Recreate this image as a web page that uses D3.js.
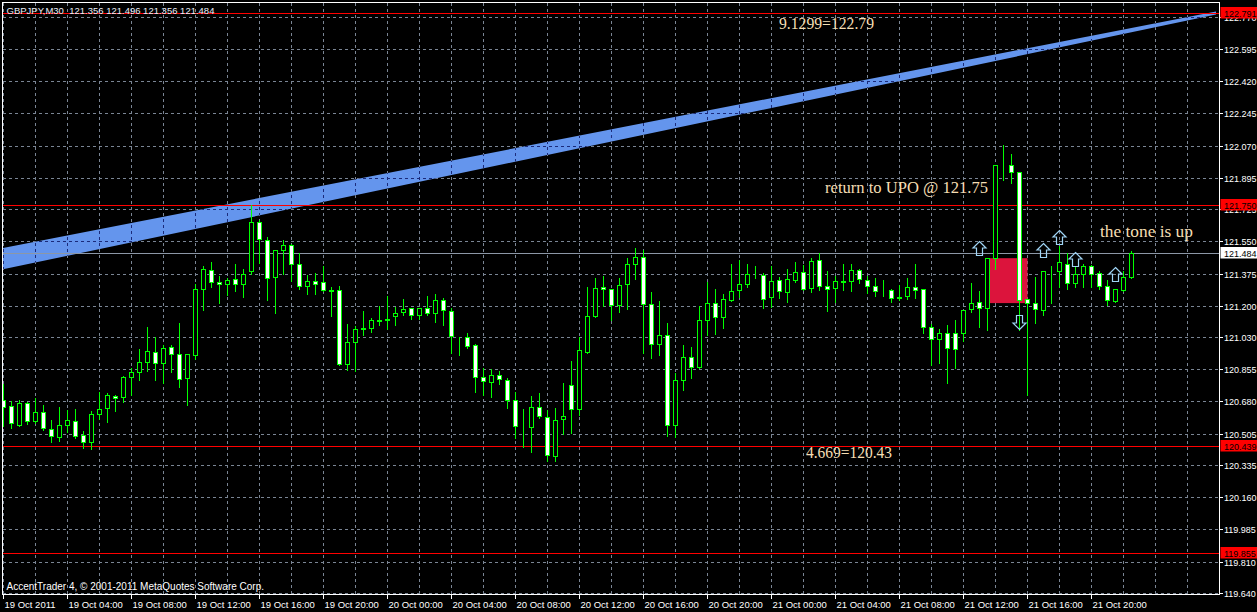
<!DOCTYPE html>
<html>
<head>
<meta charset="utf-8">
<script src="https://cdn.jsdelivr.net/npm/d3@7"></script>
<style>
  html, body { margin: 0; padding: 0; background: #000; }
  svg { display: block; }
</style>
</head>
<body>
<svg id="chart" width="1257" height="612"></svg>
<script>
// GBPJPY M30, one bar per 30 minutes starting 19 Oct 2011 00:00
const opens = [
  120.690,120.656,120.552,120.672,120.572,120.623,120.531,120.485,120.550,120.574,
  120.498,120.458,120.613,120.643,120.710,120.704,120.814,120.841,120.894,120.949,
  120.889,120.978,120.940,120.808,120.933,121.292,121.395,121.330,121.319,121.346,
  121.319,121.388,121.656,121.558,121.355,121.501,121.531,121.424,121.306,121.336,
  121.330,121.281,121.286,120.886,121.002,121.075,121.078,121.115,121.123,121.143,
  121.164,121.185,121.148,121.189,121.159,121.232,121.172,121.032,121.031,120.987,
  120.814,120.784,120.823,120.797,120.688,120.546,120.543,120.651,120.596,120.382,
  120.585,120.770,120.637,120.951,121.143,121.303,121.292,121.205,121.317,121.428,
  121.466,121.210,120.991,121.042,120.552,120.795,120.922,120.868,121.123,121.214,
  121.138,121.232,121.284,121.317,121.388,121.368,121.248,121.342,121.275,121.338,
  121.384,121.295,121.449,121.306,121.295,121.333,121.333,121.395,121.342,121.308,
  121.286,121.288,121.246,121.252,121.303,121.292,121.082,121.020,121.053,121.053,
  121.053,121.183,121.221,121.189,121.461,121.967,121.963,121.927,121.235,121.216,
  121.175,121.388,121.390,121.428,121.325,121.374,121.418,121.379,121.309,121.227,
  121.288,121.356
];
const highs = [
  120.777,120.681,120.688,120.679,120.697,120.661,120.581,120.651,120.636,120.640,
  120.520,120.629,120.732,120.726,120.715,120.817,120.860,120.966,121.087,121.031,
  120.989,120.989,121.107,120.940,121.319,121.417,121.440,121.363,121.351,121.428,
  121.401,121.745,121.668,121.574,121.503,121.558,121.535,121.487,121.368,121.379,
  121.418,121.302,121.306,121.102,121.089,121.174,121.134,121.196,121.252,121.192,
  121.239,121.189,121.189,121.255,121.261,121.243,121.189,121.032,121.052,120.990,
  120.863,120.857,120.846,120.808,120.733,120.641,120.712,120.728,120.636,120.645,
  120.782,120.897,121.028,121.304,121.353,121.364,121.292,121.348,121.462,121.516,
  121.505,121.277,121.223,121.107,120.837,120.989,120.976,121.196,121.331,121.293,
  121.265,121.424,121.451,121.429,121.418,121.379,121.417,121.357,121.397,121.435,
  121.422,121.462,121.485,121.386,121.360,121.429,121.424,121.397,121.360,121.351,
  121.342,121.289,121.315,121.353,121.424,121.292,121.100,121.071,121.093,121.120,
  121.175,121.324,121.282,121.461,121.963,122.072,122.027,121.929,121.236,121.355,
  121.390,121.418,121.527,121.485,121.415,121.426,121.419,121.391,121.342,121.292,
  121.388,121.496
];
const lows = [
  120.554,120.539,120.550,120.563,120.570,120.528,120.464,120.473,120.518,120.485,
  120.433,120.425,120.588,120.572,120.632,120.681,120.718,120.804,120.849,120.801,
  120.784,120.844,120.762,120.665,120.916,121.181,121.309,121.219,121.261,121.284,
  121.252,121.379,121.436,121.236,121.164,121.379,121.338,121.295,121.270,121.268,
  121.284,121.152,120.881,120.855,120.853,121.049,121.062,121.103,121.080,121.098,
  121.156,121.132,121.135,121.154,121.115,121.098,120.947,120.935,120.976,120.739,
  120.718,120.712,120.782,120.648,120.485,120.440,120.409,120.594,120.360,120.360,
  120.507,120.512,120.610,120.946,121.143,121.203,121.130,121.170,121.190,121.349,
  120.947,120.920,120.936,120.496,120.491,120.750,120.811,120.868,121.047,121.050,
  121.083,121.232,121.252,121.309,121.357,121.192,121.197,121.246,121.224,121.333,
  121.292,121.279,121.292,121.175,121.228,121.292,121.288,121.327,121.275,121.256,
  121.256,121.228,121.234,121.241,121.246,121.056,120.884,120.895,120.784,120.869,
  121.016,121.170,121.089,121.075,121.404,121.890,121.871,121.075,120.721,121.110,
  121.156,121.219,121.306,121.295,121.309,121.309,121.306,121.295,121.207,121.227,
  121.288,121.356
];
const closes = [
  120.650,120.563,120.672,120.572,120.623,120.534,120.491,120.552,120.579,120.491,
  120.458,120.613,120.640,120.715,120.697,120.814,120.841,120.894,120.955,120.889,
  120.971,120.939,120.803,120.935,121.292,121.401,121.331,121.319,121.340,121.319,
  121.374,121.656,121.564,121.351,121.503,121.531,121.424,121.308,121.336,121.319,
  121.284,121.284,120.886,121.004,121.075,121.080,121.123,121.123,121.130,121.161,
  121.183,121.148,121.189,121.159,121.232,121.175,121.034,121.030,120.980,120.811,
  120.790,120.825,120.801,120.685,120.546,120.544,120.651,120.601,120.390,120.581,
  120.601,120.640,120.960,121.145,121.297,121.292,121.205,121.313,121.424,121.467,
  121.210,120.993,121.042,120.552,120.797,120.922,120.866,121.123,121.216,121.140,
  121.237,121.281,121.319,121.375,121.386,121.237,121.337,121.281,121.346,121.384,
  121.292,121.442,121.308,121.292,121.336,121.331,121.395,121.346,121.308,121.281,
  121.284,121.243,121.244,121.303,121.286,121.082,121.020,121.053,120.971,120.966,
  121.175,121.216,121.189,121.461,121.963,121.965,121.927,121.230,121.216,121.183,
  121.390,121.386,121.435,121.325,121.375,121.418,121.375,121.309,121.230,121.292,
  121.357,121.484
];

// price axis labels (right) and time labels (bottom, one every 8 bars)
const priceTicks = ["122.770","122.595","122.420","122.245","122.070","121.895","121.725",
  "121.550","121.375","121.200","121.030","120.855","120.680","120.505","120.335",
  "120.160","119.985","119.810","119.640"];
const timeLabels = ["19 Oct 2011","19 Oct 04:00","19 Oct 08:00","19 Oct 12:00","19 Oct 16:00",
  "19 Oct 20:00","20 Oct 00:00","20 Oct 04:00","20 Oct 08:00","20 Oct 12:00","20 Oct 16:00",
  "20 Oct 20:00","21 Oct 00:00","21 Oct 04:00","21 Oct 08:00","21 Oct 12:00","21 Oct 16:00",
  "21 Oct 20:00"];

// horizontal levels
const redLevels = [122.791, 121.750, 120.439, 119.855];
const bidPrice = 121.484;

// drawn objects
const bandBars = [-0.44, 151.56];
const bandTop = [121.513, 122.802];
const bandBottom = [121.397, 122.785];
const boxBars = [123.2, 128.0];
const boxPrices = [121.461, 121.217];
const upArrowBars = [122, 130, 132, 134, 139];
const upArrowPrices = [121.550, 121.543, 121.610, 121.491, 121.413];
const downArrowBars = [127];
const downArrowPrices = [121.076];
const noteTexts = ["9.1299=122.79", "return to UPO @ 121.75", "the tone is up", "4.669=120.43"];
const noteBars = [96.94, 102.69, 137.06, 100.31];
const notePrices = [122.706, 121.815, 121.576, 120.375];

const header = "GBPJPY,M30  121.356 121.496 121.356 121.484";
const footer = "AccentTrader 4, \u00a9 2001-2011 MetaQuotes Software Corp.";

// ---- drawing ----
const W = 1257, H = 612;
const pLeft = 3, pTop = 3, pRight = 1219, pBottom = 594;
const svg = d3.select("#chart");
svg.append("rect").attr("width", W).attr("height", H).attr("fill", "#000");

const x = d3.scaleLinear().domain([0, 141]).range([3.5, 1131.5]);
const y = d3.scaleLinear().domain([119.640, 122.770]).range([593.3, 17.3]);
const snap = v => Math.floor(v) + 0.5;

const candles = opens.map((o, i) => ({ i, o, h: highs[i], l: lows[i], c: closes[i] }));
const tickValues = priceTicks.map(Number);
const gridBars = d3.range(0, 152, 4);

const defs = svg.append("defs");
defs.append("clipPath").attr("id", "plot").append("rect")
  .attr("x", pLeft).attr("y", pTop).attr("width", pRight - pLeft).attr("height", pBottom - pTop);

const bandPts = [
  [x(bandBars[0]), y(bandTop[0])], [x(bandBars[1]), y(bandTop[1])],
  [x(bandBars[1]), y(bandBottom[1])], [x(bandBars[0]), y(bandBottom[0])]
];
defs.append("clipPath").attr("id", "band").append("polygon")
  .attr("points", bandPts.map(p => p.join(",")).join(" "));

const plot = svg.append("g").attr("clip-path", "url(#plot)");

// blue channel
plot.append("polygon")
  .attr("points", bandPts.map(p => p.join(",")).join(" "))
  .attr("fill", "#6495ed");

function drawGrid(g, color) {
  g.selectAll("line.gh").data(tickValues).join("line").attr("class", "gh")
    .attr("x1", pLeft).attr("x2", pRight)
    .attr("y1", d => snap(y(d))).attr("y2", d => snap(y(d)))
    .attr("stroke", color).attr("stroke-dasharray", "3,3");
  g.selectAll("line.gv").data(gridBars).join("line").attr("class", "gv")
    .attr("x1", d => x(d)).attr("x2", d => x(d))
    .attr("y1", pTop).attr("y2", pBottom)
    .attr("stroke", color).attr("stroke-dasharray", "3,3");
}
drawGrid(plot.append("g"), "#7a8594");
drawGrid(plot.append("g").attr("clip-path", "url(#band)"), "#1a2a7a");

// header text
svg.append("text").attr("x", 6.5).attr("y", 14)
  .attr("font-family", "Liberation Sans, Arial, sans-serif").attr("font-size", "9.5px")
  .attr("fill", "#e8eef8").attr("xml:space", "preserve").text(header);

// crimson rectangle
plot.append("rect")
  .attr("x", x(boxBars[0])).attr("y", y(boxPrices[0]))
  .attr("width", x(boxBars[1]) - x(boxBars[0]))
  .attr("height", y(boxPrices[1]) - y(boxPrices[0]))
  .attr("fill", "#dc143c");

// level lines
plot.selectAll("line.red").data(redLevels).join("line").attr("class", "red")
  .attr("x1", pLeft).attr("x2", pRight)
  .attr("y1", d => snap(y(d))).attr("y2", d => snap(y(d)))
  .attr("stroke", "#ff0000");
plot.append("line")
  .attr("x1", pLeft).attr("x2", pRight)
  .attr("y1", snap(y(bidPrice))).attr("y2", snap(y(bidPrice)))
  .attr("stroke", "#8c97a6");

// candles
const cg = plot.append("g");
cg.selectAll("line.wick").data(candles).join("line").attr("class", "wick")
  .attr("x1", d => x(d.i)).attr("x2", d => x(d.i))
  .attr("y1", d => Math.floor(y(d.h))).attr("y2", d => Math.ceil(y(d.l)) + 1)
  .attr("stroke", "#00ff00");
cg.selectAll("rect.body").data(candles).join("rect").attr("class", "body")
  .attr("x", d => x(d.i) - 2)
  .attr("y", d => snap(y(Math.max(d.o, d.c))))
  .attr("width", 4)
  .attr("height", d => snap(y(Math.min(d.o, d.c))) - snap(y(Math.max(d.o, d.c))))
  .attr("fill", d => d.c < d.o ? "#ffffff" : "#000000")
  .attr("stroke", "#00ff00");

// arrows
const upPath = "M0,0 L6.5,6.5 L3,6.5 L3,14 L-3,14 L-3,6.5 L-6.5,6.5 Z";
const downPath = "M0,0 L6.5,-6.5 L3,-6.5 L3,-14 L-3,-14 L-3,-6.5 L-6.5,-6.5 Z";
plot.selectAll("path.up").data(upArrowBars).join("path").attr("class", "up")
  .attr("d", upPath)
  .attr("transform", (d, i) => `translate(${x(d)},${snap(y(upArrowPrices[i]))})`)
  .attr("fill", "none").attr("stroke", "#9fd4f5").attr("stroke-width", 1.2);
plot.selectAll("path.down").data(downArrowBars).join("path").attr("class", "down")
  .attr("d", downPath)
  .attr("transform", (d, i) => `translate(${x(d)},${snap(y(downArrowPrices[i]))})`)
  .attr("fill", "none").attr("stroke", "#9fd4f5").attr("stroke-width", 1.2);

// notes
const noteWidths = [95, 163, 93, 86];
svg.selectAll("text.note").data(noteTexts).join("text").attr("class", "note")
  .attr("x", (d, i) => x(noteBars[i]))
  .attr("y", (d, i) => y(notePrices[i]))
  .attr("textLength", (d, i) => noteWidths[i]).attr("lengthAdjust", "spacingAndGlyphs")
  .attr("font-family", "Liberation Serif, Times New Roman, serif").attr("font-size", "16px")
  .attr("fill", "#f5deb3").text(d => d);

// footer
svg.append("text").attr("x", 6.5).attr("y", 590)
  .attr("font-family", "Liberation Sans, Arial, sans-serif").attr("font-size", "10px")
  .attr("fill", "#ffffff").text(footer);

// frame
svg.append("rect").attr("x", 2.5).attr("y", 2.5)
  .attr("width", pRight - 2.5 + 0.5).attr("height", pBottom - 2.5 + 0.5)
  .attr("fill", "none").attr("stroke", "#ffffff");

// right axis
const axisFont = "Liberation Sans, Arial, sans-serif";
const ra = svg.append("g");
ra.selectAll("line").data(tickValues).join("line")
  .attr("x1", pRight).attr("x2", pRight + 4)
  .attr("y1", d => snap(y(d))).attr("y2", d => snap(y(d)))
  .attr("stroke", "#ffffff");
ra.selectAll("text").data(priceTicks).join("text")
  .attr("x", 1224).attr("y", d => snap(y(+d)) + 3.5)
  .attr("font-family", axisFont).attr("font-size", "9px")
  .attr("fill", "#ffffff").text(d => d);

// price tags
const tags = redLevels.map(v => ({ v, bg: "#ff0000" })).concat([{ v: bidPrice, bg: "#ffffff" }]);
const tg = svg.append("g").selectAll("g").data(tags).join("g");
tg.append("rect")
  .attr("x", 1220.5).attr("y", d => snap(y(d.v)) - 6.5)
  .attr("width", 40).attr("height", 11.5)
  .attr("fill", d => d.bg);
tg.append("text")
  .attr("x", 1224).attr("y", d => snap(y(d.v)) + 3)
  .attr("font-family", axisFont).attr("font-size", "9px")
  .attr("fill", "#000000").text(d => d.v.toFixed(3));

// time axis
const ta = svg.append("g");
ta.selectAll("line").data(timeLabels).join("line")
  .attr("x1", (d, i) => x(i * 8)).attr("x2", (d, i) => x(i * 8))
  .attr("y1", pBottom).attr("y2", pBottom + 5)
  .attr("stroke", "#ffffff");
ta.selectAll("text").data(timeLabels).join("text")
  .attr("x", (d, i) => x(i * 8) + 1).attr("y", 608)
  .attr("font-family", axisFont).attr("font-size", "9.5px")
  .attr("fill", "#ffffff").text(d => d);
</script>
</body>
</html>
